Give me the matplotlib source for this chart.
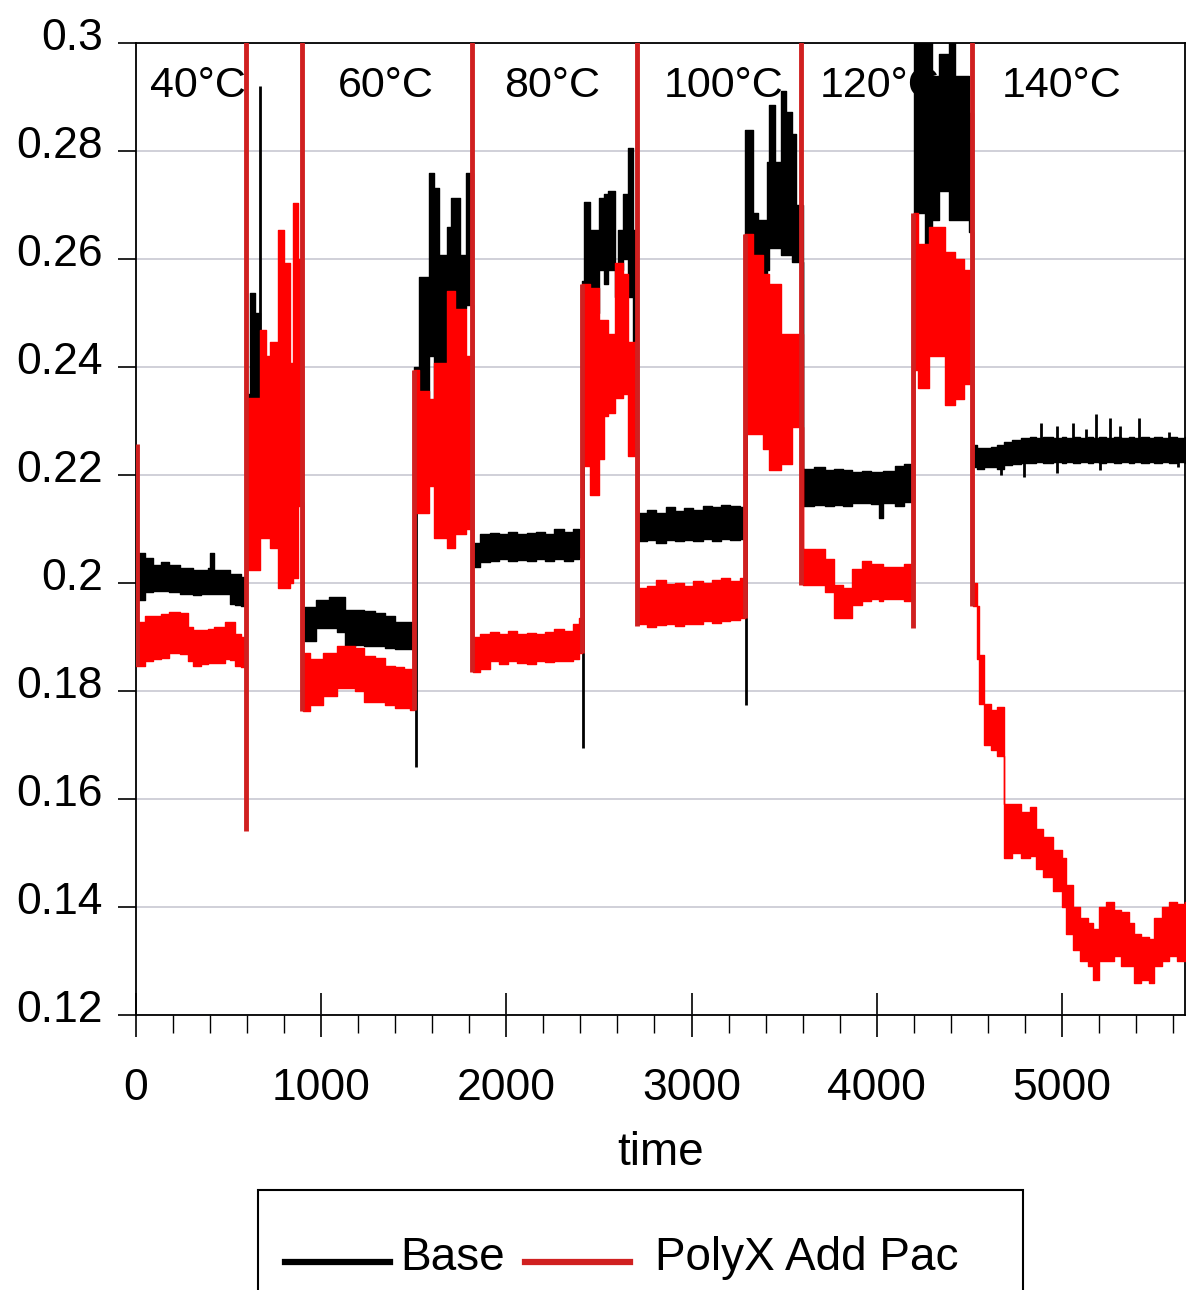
import matplotlib
matplotlib.use("Agg")
import matplotlib.pyplot as plt
import matplotlib.transforms as mtransforms
from matplotlib.lines import Line2D
from matplotlib.patches import Rectangle
from matplotlib.ticker import MultipleLocator, FuncFormatter

plt.rcParams["font.family"] = ["Liberation Sans", "DejaVu Sans"]

# ---- data: time, Base band (lo/hi), PolyX band (lo/hi) ----
time = [
    0, 15, 50, 90, 135, 180, 235, 280, 310, 350, 390, 400, 420, 480, 510, 535, 565,
    595, 615, 645, 670, 700, 725, 765, 800, 830, 850, 875,
    900, 940, 970, 1010, 1040, 1085, 1130, 1180, 1230, 1290, 1345, 1400, 1450, 1480,
    1500, 1530, 1580, 1610, 1635, 1680, 1700, 1725, 1750, 1780,
    1820, 1860, 1910, 1960, 2010, 2060, 2110, 2160, 2210, 2260, 2310, 2360, 2390,
    2410, 2420, 2450, 2475, 2500, 2525, 2550, 2585, 2605, 2630, 2655, 2685,
    2710, 2760, 2810, 2860, 2910, 2960, 3010, 3060, 3110, 3160, 3210, 3260,
    3290, 3330, 3360, 3385, 3410, 3420, 3450, 3485, 3510, 3540, 3565,
    3600, 3660, 3720, 3770, 3820, 3865, 3920, 3970, 4010, 4035, 4100, 4150,
    4200, 4225, 4260, 4280, 4300, 4335, 4370, 4390, 4425, 4470, 4500,
    4520, 4540, 4555, 4580, 4620, 4650, 4690, 4730, 4780, 4830, 4860, 4900,
    4950, 5000, 5020, 5060, 5100, 5140, 5170, 5200, 5240, 5280, 5320, 5360,
    5390, 5430, 5470, 5500, 5540, 5580, 5620, 5665,
]

base_lo = [
    .1970, .1968, .1983, .1986, .1986, .1983, .1980, .1980, .1977, .1979, .1980, .1980, .1980, .1980, .1962, .1960, .1957,
    .2050, .2340, .2340, .2150, .2150, .2150, .2150, .2150, .2150, .2150, .2150,
    .1892, .1892, .1917, .1917, .1917, .1910, .1883, .1885, .1883, .1883, .1880, .1877, .1877, .1877,
    .2335, .2335, .2420, .2335, .2375, .2440, .2520, .2375, .2510, .2515,
    .2030, .2038, .2040, .2045, .2040, .2042, .2040, .2045, .2040, .2045, .2040, .2045, .2048,
    .2450, .2450, .2440, .2500, .2580, .2554, .2580, .2530, .2580, .2600, .2530, .2250,
    .2077, .2080, .2075, .2080, .2077, .2080, .2077, .2082, .2078, .2082, .2080, .2082,
    .2646, .2560, .2560, .2560, .2580, .2620, .2620, .2607, .2607, .2595, .2595,
    .2142, .2145, .2142, .2145, .2142, .2148, .2148, .2146, .2120, .2148, .2143, .2150,
    .2686, .2686, .2607, .2607, .2673, .2726, .2726, .2673, .2673, .2673, .2650,
    .2215, .2212, .2212, .2215, .2215, .2212, .2218, .2220, .2222, .2222, .2224, .2222,
    .2224, .2222, .2224, .2222, .2224, .2222, .2224, .2222, .2224, .2222, .2224, .2222,
    .2224, .2222, .2224, .2222, .2224, .2222, .2224, .2222,
]

base_hi = [
    .2055, .2055, .2046, .2034, .2038, .2034, .2028, .2028, .2025, .2025, .2028, .2055, .2025, .2025, .2016, .2016, .2012,
    .2350, .2537, .2500, .2350, .2350, .2350, .2400, .2400, .2350, .2400, .2400,
    .1956, .1956, .1968, .1968, .1974, .1974, .1950, .1950, .1948, .1945, .1938, .1928, .1928, .1928,
    .2400, .2567, .2759, .2732, .2607, .2660, .2713, .2713, .2607, .2759,
    .2075, .2090, .2093, .2090, .2095, .2090, .2093, .2095, .2090, .2100, .2095, .2100, .2098,
    .2560, .2706, .2653, .2653, .2713, .2720, .2726, .2580, .2653, .2720, .2805, .2653,
    .2130, .2136, .2130, .2140, .2133, .2138, .2135, .2142, .2140, .2145, .2142, .2140,
    .2838, .2686, .2673, .2673, .2779, .2885, .2779, .2911, .2872, .2832, .2700,
    .2212, .2215, .2210, .2212, .2210, .2206, .2208, .2206, .2206, .2208, .2216, .2220,
    .3050, .3050, .3050, .3050, .2938, .2980, .2980, .3050, .2938, .2938, .2870,
    .2256, .2250, .2250, .2250, .2252, .2255, .2262, .2265, .2268, .2270, .2268, .2270,
    .2268, .2270, .2268, .2270, .2268, .2270, .2268, .2270, .2268, .2270, .2268, .2270,
    .2268, .2270, .2268, .2270, .2268, .2270, .2268, .2270,
]

polyx_lo = [
    .1847, .1847, .1855, .1859, .1862, .1871, .1868, .1855, .1847, .1850, .1852, .1852, .1852, .1860, .1858, .1847, .1845,
    .2024, .2024, .2024, .2083, .2083, .2064, .1990, .1990, .2000, .2010, .2143,
    .1763, .1775, .1775, .1790, .1790, .1805, .1805, .1800, .1780, .1780, .1775, .1769, .1769, .1765,
    .2130, .2130, .2180, .2083, .2083, .2064, .2064, .2090, .2090, .2100,
    .1835, .1840, .1856, .1850, .1856, .1852, .1850, .1856, .1853, .1856, .1855, .1860, .1870,
    .2216, .2216, .2163, .2163, .2230, .2309, .2315, .2342, .2342, .2350, .2236, .2236,
    .1925, .1918, .1922, .1925, .1920, .1925, .1925, .1930, .1926, .1930, .1932, .1935,
    .2276, .2276, .2276, .2249, .2249, .2210, .2210, .2220, .2220, .2289, .2289,
    .1996, .1996, .1984, .1935, .1935, .1960, .1966, .1970, .1966, .1970, .1970, .1966,
    .2395, .2362, .2362, .2421, .2421, .2421, .2329, .2329, .2340, .2368, .2368,
    .1958, .1860, .1776, .1700, .1690, .1680, .1490, .1500, .1490, .1495, .1470, .1455,
    .1430, .1400, .1350, .1320, .1300, .1290, .1264, .1300, .1300, .1310, .1290, .1290,
    .1260, .1265, .1260, .1290, .1300, .1310, .1300, .1320,
]

polyx_hi = [
    .1928, .1928, .1938, .1938, .1942, .1947, .1945, .1918, .1913, .1913, .1915, .1915, .1918, .1928, .1928, .1905, .1900,
    .2342, .2342, .2342, .2468, .2421, .2447, .2653, .2593, .2408, .2703, .2600,
    .1871, .1859, .1859, .1871, .1871, .1883, .1883, .1880, .1865, .1862, .1847, .1845, .1840, .1840,
    .2395, .2355, .2340, .2408, .2408, .2540, .2540, .2507, .2507, .2421,
    .1900, .1905, .1910, .1905, .1912, .1905, .1908, .1905, .1910, .1915, .1912, .1925, .1935,
    .2553, .2553, .2546, .2546, .2487, .2487, .2461, .2593, .2593, .2573, .2447, .2447,
    .1990, .1995, .2005, .1998, .2000, .1995, .2003, .2000, .2005, .2010, .2003, .2010,
    .2646, .2607, .2607, .2573, .2573, .2554, .2554, .2461, .2461, .2461, .2461,
    .2063, .2063, .2044, .1996, .1990, .2026, .2041, .2035, .2035, .2030, .2030, .2035,
    .2686, .2627, .2627, .2660, .2660, .2660, .2613, .2613, .2600, .2580, .2580,
    .2000, .1958, .1867, .1776, .1765, .1770, .1590, .1590, .1575, .1585, .1545, .1530,
    .1505, .1490, .1440, .1400, .1380, .1370, .1360, .1400, .1410, .1395, .1390, .1370,
    .1350, .1345, .1340, .1380, .1400, .1410, .1405, .1410,
]

# single-sample excursions (switching transients and isolated spikes)
base_spike_t = [667, 1510, 2413, 3295, 4674, 4793, 4885, 4976, 5058, 5132, 5187, 5205, 5260, 5315, 5416, 5580, 5626]
base_spike_lo = [.2340, .1660, .1694, .1774, .2200, .2197, .2240, .2203, .2240, .2240, .2240, .2210, .2240, .2240, .2240, .2240, .2215]
base_spike_hi = [.2921, .2400, .2560, .2646, .2240, .2240, .2297, .2290, .2297, .2285, .2313, .2240, .2305, .2290, .2305, .2280, .2240]

polyx_spike_t = [3, 593, 898, 1503, 1816, 2410, 2706, 3290, 3593, 4197, 4513]
polyx_spike_lo = [.1847, .1540, .1763, .1765, .1835, .1870, .1920, .1935, .1996, .1917, .1958]
polyx_spike_hi = [.2257, .3050, .3050, .2395, .3050, .2553, .3050, .2646, .3050, .2686, .3050]

temp_labels = ["40°C", "60°C", "80°C", "100°C", "120°C", "140°C"]
temp_label_t = [76, 1088, 1986, 2852, 3690, 4675]

series_names = ["Base", "PolyX Add Pac"]
y_ticks = [0.12, 0.14, 0.16, 0.18, 0.2, 0.22, 0.24, 0.26, 0.28, 0.3]

BLACK = "#000000"
RED = "#ff0000"
RED_DARK = "#d02020"

W, H = 1192, 1290
fig = plt.figure(figsize=(W / 100, H / 100), dpi=100)
ax = fig.add_axes([136 / W, 1 - 1015 / H, (1185 - 136) / W, (1015 - 43) / H])

# temperature labels sit underneath the traces
for s, t in zip(temp_labels, temp_label_t):
    ax.text(t, 0.2900, s, fontsize=31, va="baseline", ha="left", zorder=2)

ax.fill_between(time, base_lo, base_hi, step="post", color=BLACK, lw=1, zorder=3)
ax.vlines(base_spike_t, base_spike_lo, base_spike_hi, color=BLACK, lw=2, zorder=3)
ax.fill_between(time, polyx_lo, polyx_hi, step="post", color=RED, lw=1, zorder=4)
ax.vlines(polyx_spike_t, polyx_spike_lo, polyx_spike_hi, color=RED_DARK, lw=3.5, zorder=5)

ax.set_xlim(0, 5665)
ax.set_ylim(0.12, 0.3)
ax.set_yticks(y_ticks)
ax.yaxis.set_major_formatter(FuncFormatter(lambda v, p: f"{v:g}"))
ax.xaxis.set_major_locator(MultipleLocator(1000))
ax.xaxis.set_minor_locator(MultipleLocator(200))

ax.set_axisbelow(True)
ax.yaxis.grid(True, color="#c8c8d2", lw=1.2)
for sp in ax.spines.values():
    sp.set_linewidth(1.3)

ax.tick_params(axis="y", which="major", direction="out", length=13, width=1.2, pad=11, labelsize=32)
ax.tick_params(axis="x", which="major", direction="inout", length=32, width=1.2, pad=22, labelsize=32)
ax.tick_params(axis="x", which="minor", direction="out", length=13, width=1.0)

# y labels in the original sit a little above their ticks
lift = mtransforms.ScaledTranslation(0, 0.09, fig.dpi_scale_trans)
for lab in ax.get_yticklabels():
    lab.set_transform(lab.get_transform() + lift)

ax.set_xlabel("time", fontsize=33)
ax.xaxis.set_label_coords(0.5, -0.154)
ax.xaxis.label.set_va("baseline")

# legend box (runs off the bottom edge like the original)
fig.patches.append(Rectangle((258 / W, 1 - 1330 / H), (1023 - 258) / W, (1330 - 1190) / H,
                             transform=fig.transFigure, fill=False, lw=1.5, ec=BLACK))
fig.lines.append(Line2D([285 / W, 390 / W], [1 - 1262 / H] * 2, transform=fig.transFigure,
                        color=BLACK, lw=4.5))
fig.lines.append(Line2D([525 / W, 630 / W], [1 - 1262 / H] * 2, transform=fig.transFigure,
                        color=RED_DARK, lw=4.5))
fig.text(400 / W, 1 - 1270 / H, series_names[0], fontsize=33, va="baseline")
fig.text(655 / W, 1 - 1270 / H, series_names[1], fontsize=33, va="baseline")

fig.savefig("out.png", dpi=100)
